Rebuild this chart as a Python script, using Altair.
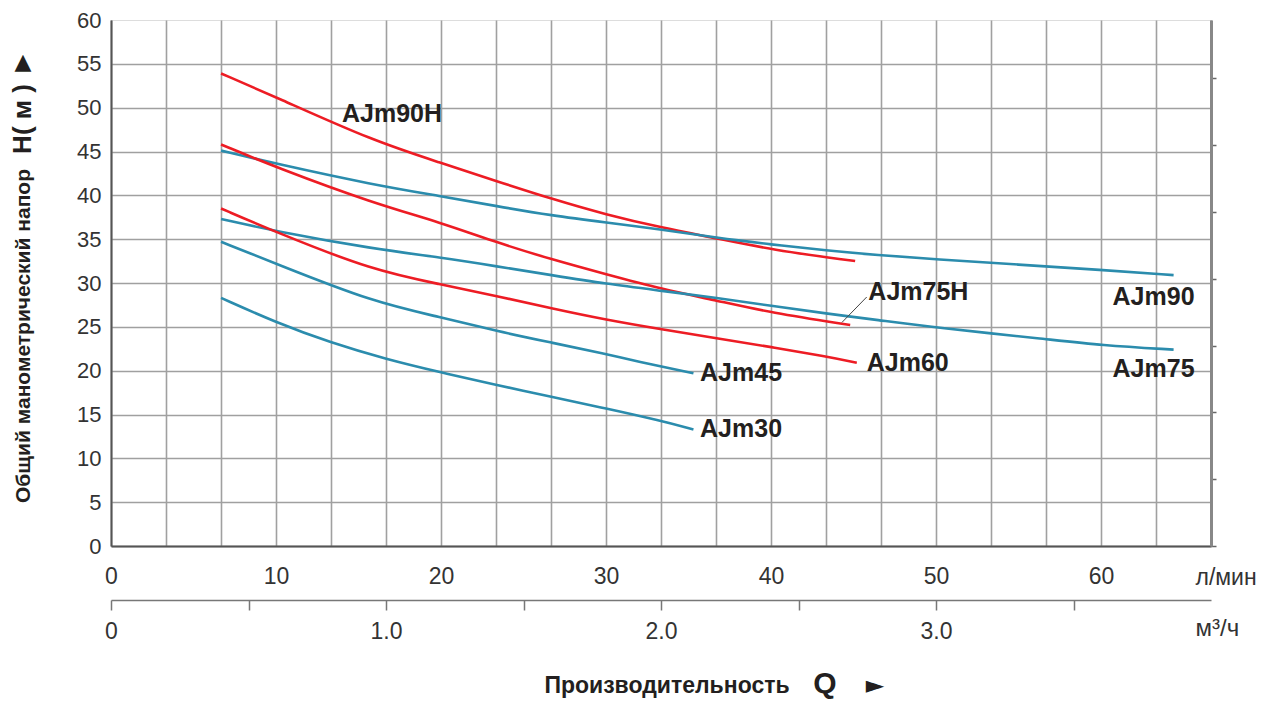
import altair as alt
import pandas as pd

# ---- data (Q in l/min, H in m) ----
models = ["AJm90H", "AJm90", "AJm75H", "AJm75", "AJm60", "AJm45", "AJm30"]
colors = ["#ed1c24", "#2b8cad", "#ed1c24", "#2b8cad", "#ed1c24", "#2b8cad", "#2b8cad"]

q_90h = [6.67, 10.0, 15.9, 20.0, 23.4, 26.7, 30.0, 33.4, 36.7, 40.0, 45.1]
h_90h = [53.9, 51.2, 46.2, 43.7, 41.6, 39.6, 37.8, 36.3, 35.1, 33.8, 32.5]

q_90 = [6.67, 10.0, 15.9, 20.0, 23.4, 26.7, 30.0, 33.4, 36.7, 40.0, 43.4, 46.4, 50.0, 55.0, 60.0, 64.4]
h_90 = [45.1, 43.6, 41.2, 39.9, 38.75, 37.7, 36.9, 36.1, 35.15, 34.4, 33.7, 33.2, 32.7, 32.1, 31.5, 30.9]

q_75h = [6.67, 10.0, 15.9, 20.0, 23.4, 26.7, 30.0, 33.4, 36.7, 40.0, 44.8]
h_75h = [45.8, 43.2, 39.1, 36.9, 34.6, 32.7, 31.0, 29.3, 28.0, 26.6, 25.2]

q_75 = [6.67, 10.0, 15.9, 20.0, 23.4, 26.7, 30.0, 33.4, 36.7, 40.0, 43.4, 46.4, 50.0, 56.7, 60.0, 64.4]
h_75 = [37.3, 35.9, 33.9, 32.9, 31.9, 30.9, 29.9, 29.1, 28.3, 27.4, 26.5, 25.8, 24.9, 23.6, 22.9, 22.4]

q_60 = [6.67, 10.0, 15.9, 20.0, 23.4, 26.7, 30.0, 33.4, 36.7, 40.0, 43.4, 45.2]
h_60 = [38.5, 35.8, 31.4, 29.85, 28.5, 27.1, 25.8, 24.7, 23.7, 22.7, 21.6, 20.9]

q_45 = [6.67, 10.0, 15.9, 20.0, 23.4, 26.7, 30.0, 31.8, 35.3]
h_45 = [34.7, 32.2, 27.8, 26.1, 24.5, 23.2, 21.9, 21.1, 19.7]

q_30 = [6.67, 10.0, 13.3, 16.7, 20.0, 23.3, 26.7, 30.0, 33.3, 35.3]
h_30 = [28.3, 25.5, 23.2, 21.3, 19.8, 18.4, 17.0, 15.7, 14.3, 13.3]

label_text = ["AJm90H", "AJm90", "AJm75", "AJm75H", "AJm60", "AJm45", "AJm30"]
label_q = [14.0, 60.7, 60.7, 45.9, 45.8, 35.7, 35.7]
label_h = [49.3, 28.4, 20.2, 29.0, 20.9, 19.7, 13.3]

leader_q = [45.8]
leader_h = [28.4]
leader_q2 = [44.3]
leader_h2 = [25.5]

x_ticks_lmin = [i * 10 / 3 for i in range(21)]
y_ticks = list(range(0, 61, 5))
x_ticks_m3h = [0, 0.5, 1.0, 1.5, 2.0, 2.5, 3.0, 3.5]
ft_ticks = [0, 25, 50, 75, 100, 125, 150, 175]

# ---- build tables ----
series = [q_90h, q_90, q_75h, q_75, q_60, q_45, q_30]
heads = [h_90h, h_90, h_75h, h_75, h_60, h_45, h_30]
rows = []
for m, qs, hs in zip(models, series, heads):
    for q, h in zip(qs, hs):
        rows.append({"model": m, "Q": q, "H": h})
curves = pd.DataFrame(rows)
labels = pd.DataFrame({"t": label_text, "Q": label_q, "H": label_h})
leader = pd.DataFrame({"Q": leader_q, "H": leader_h, "Q2": leader_q2, "H2": leader_h2})

FONT = "Liberation Sans"
GRID = "#a0a0a0"
QMAX = 200 / 3
H_PLOT = 526

xs = alt.Scale(domain=[0, QMAX], nice=False, zero=True)
ys = alt.Scale(domain=[0, 60], nice=False)

lines = alt.Chart(curves).mark_line(strokeWidth=2.6, interpolate="basis").encode(
    x=alt.X("Q:Q", scale=xs, axis=alt.Axis(
        values=x_ticks_lmin, grid=True, gridColor=GRID, gridWidth=1.6,
        tickSize=0, domainColor="#555", domainWidth=2,
        labelExpr="abs(datum.value - round(datum.value/10)*10) < 0.01 ? format(round(datum.value),'d') : ''",
        labelFont=FONT, labelFontSize=23, labelColor="#333", labelPadding=19,
        labelFlush=False, labelOverlap=False,
        title="л/мин", titleFont=FONT, titleFontSize=23, titleFontWeight="normal",
        titleColor="#333", titleAngle=0, titleAlign="left", titleBaseline="middle",
        titleX=1084, titleY=31)),
    y=alt.Y("H:Q", scale=ys, axis=alt.Axis(
        values=y_ticks, grid=True, gridWidth=1.6,
        gridColor={"condition": {"test": "datum.value >= 60", "value": "transparent"}, "value": GRID},
        tickSize=0, domainColor="#555", domainWidth=2,
        labelFont=FONT, labelFontSize=22, labelColor="#333", labelPadding=10,
        labelFlush=False, labelOverlap=False, title=None)),
    color=alt.Color("model:N", scale=alt.Scale(domain=models, range=colors), legend=None),
    detail="model:N",
)

texts = alt.Chart(labels).mark_text(
    align="left", baseline="middle", font=FONT, fontSize=25, fontWeight="bold", color="#231f20"
).encode(x=alt.X("Q:Q", scale=xs), y=alt.Y("H:Q", scale=ys), text="t:N")

lead = alt.Chart(leader).mark_rule(color="#444", strokeWidth=1).encode(
    x=alt.X("Q:Q", scale=xs), y=alt.Y("H:Q", scale=ys), x2="Q2:Q", y2="H2:Q")

ytitle = alt.Chart(pd.DataFrame({"t": ["Общий манометрический напор"]})).mark_text(
    angle=270, align="center", baseline="middle", font=FONT, fontSize=21, fontWeight="bold", color="#231f20"
).encode(x=alt.value(-87), y=alt.value(316), text="t:N")
ytitle_h = alt.Chart(pd.DataFrame({"t": ["H( м )"]})).mark_text(
    angle=270, align="center", baseline="middle", font=FONT, fontSize=26, fontWeight="bold", color="#231f20"
).encode(x=alt.value(-88), y=alt.value(99), text="t:N")
ytitle_a = alt.Chart(pd.DataFrame({"t": ["▲"]})).mark_text(
    angle=0, align="center", baseline="middle", font="DejaVu Sans", fontSize=22, color="#231f20"
).encode(x=alt.value(-88), y=alt.value(42), text="t:N")

xtitle = alt.Chart(pd.DataFrame({"t": ["Производительность"]})).mark_text(
    align="center", baseline="middle", font=FONT, fontSize=23, fontWeight="bold", color="#231f20"
).encode(x=alt.value(556), y=alt.value(140 + H_PLOT), text="t:N")
xtitle_q = alt.Chart(pd.DataFrame({"t": ["Q"]})).mark_text(
    align="center", baseline="middle", font=FONT, fontSize=30, fontWeight="bold", color="#231f20"
).encode(x=alt.value(714), y=alt.value(138 + H_PLOT), text="t:N")
xtitle_a = alt.Chart(pd.DataFrame({"t": ["►"]})).mark_text(
    align="center", baseline="middle", font="DejaVu Sans", fontSize=24, color="#231f20"
).encode(x=alt.value(764), y=alt.value(140 + H_PLOT), text="t:N")

main = alt.layer(lines, texts, lead, ytitle, ytitle_h, ytitle_a, xtitle, xtitle_q, xtitle_a)

# second (m3/h) axis
m3h_layer = alt.Chart(pd.DataFrame({"m3h": [0.0, 4.0]})).mark_point(opacity=0).encode(
    x=alt.X("m3h:Q", scale=alt.Scale(domain=[0, 4], nice=False), axis=alt.Axis(
        orient="bottom", offset=54, values=x_ticks_m3h, grid=False,
        tickSize=10, tickColor="#777", tickWidth=1.5, domainColor="#777", domainWidth=1.5,
        labelExpr="datum.value == 0 ? '0' : (datum.value % 1 == 0 ? format(datum.value, '.1f') : '')",
        labelFont=FONT, labelFontSize=23, labelColor="#333", labelPadding=10,
        labelFlush=False, labelOverlap=False,
        title="м³/ч", titleFont=FONT, titleFontSize=24, titleFontWeight="normal",
        titleColor="#333", titleAngle=0, titleAlign="left", titleBaseline="middle",
        titleX=1084, titleY=28)),
    y=alt.value(0),
)

# right-hand feet scale (ticks only)
ft_layer = alt.Chart(pd.DataFrame({"ft": [0.0, 60 / 0.3048]})).mark_point(opacity=0).encode(
    x=alt.value(0),
    y=alt.Y("ft:Q", scale=alt.Scale(domain=[0, 60 / 0.3048], nice=False), axis=alt.Axis(
        orient="right", values=ft_ticks, grid=False, labels=False, title=None,
        tickSize=5, tickColor="#666", tickWidth=1.5, domainColor="#888", domainWidth=3)),
)

chart = alt.layer(main, m3h_layer, ft_layer).resolve_scale(
    x="independent", y="independent"
).properties(
    width=1100, height=H_PLOT,
    autosize=alt.AutoSizeParams(type="none"),
    padding={"left": 103, "top": 12, "right": 60, "bottom": 156},
).configure_view(stroke=None).configure(background="white")

chart.save("out.html", embed_options={"renderer": "svg", "actions": False})
